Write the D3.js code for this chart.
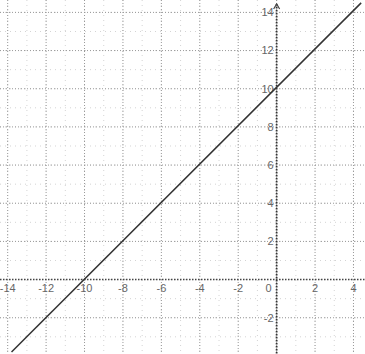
<!DOCTYPE html>
<html>
<head>
<meta charset="utf-8">
<script src="https://cdn.jsdelivr.net/npm/d3@7"></script>
<style>
  html, body { margin: 0; padding: 0; background: #fff; }
  svg { display: block; }
  .tick-label { font-family: "Liberation Sans", Arial, sans-serif; font-size: 11px; fill: #666; }
</style>
</head>
<body>
<div id="chart"></div>
<script>
// line y = x + 10, drawn between its two ends on the paper
const lineX = [-13.8, 4.4];
const lineY = [-3.8, 14.5];

// tick labels
const xTicks = [-14, -12, -10, -8, -6, -4, -2, 0, 2, 4];
const yTicks = [14, 12, 10, 8, 6, 4, 2, -2];

// grid steps
const majorX = d3.range(-14, 5, 2);
const majorY = d3.range(-4, 15, 2);
const minorX = d3.range(-14, 5, 1);
const minorY = d3.range(-4, 15, 1);

const width = 365, height = 354;

const svg = d3.select('#chart')
    .append('svg')
    .attr('width', width)
    .attr('height', height);

const x = d3.scaleLinear().domain([-14.4, 4.6]).range([0, width]);
const y = d3.scaleLinear().domain([-3.9, 14.65]).range([height, 0]);

// minor grid (faint)
svg.append('g').selectAll('line')
    .data(minorX)
    .enter().append('line')
    .attr('x1', d => x(d)).attr('x2', d => x(d))
    .attr('y1', 0).attr('y2', height)
    .attr('stroke', '#d4d4d4')
    .attr('stroke-dasharray', '1,4');

svg.append('g').selectAll('line')
    .data(minorY)
    .enter().append('line')
    .attr('y1', d => y(d)).attr('y2', d => y(d))
    .attr('x1', 0).attr('x2', width)
    .attr('stroke', '#d4d4d4')
    .attr('stroke-dasharray', '1,4');

// major grid (dotted)
svg.append('g').selectAll('line')
    .data(majorX)
    .enter().append('line')
    .attr('x1', d => x(d)).attr('x2', d => x(d))
    .attr('y1', 0).attr('y2', height)
    .attr('stroke', '#999')
    .attr('stroke-dasharray', '1,2');

svg.append('g').selectAll('line')
    .data(majorY)
    .enter().append('line')
    .attr('y1', d => y(d)).attr('y2', d => y(d))
    .attr('x1', 0).attr('x2', width)
    .attr('stroke', '#999')
    .attr('stroke-dasharray', '1,2');

// axes
svg.append('line')
    .attr('x1', 0).attr('x2', width)
    .attr('y1', y(0)).attr('y2', y(0))
    .attr('stroke', '#444')
    .attr('stroke-width', 1.6)
    .attr('stroke-dasharray', '1.5,1.5');

svg.append('line')
    .attr('x1', x(0)).attr('x2', x(0))
    .attr('y1', 4).attr('y2', height)
    .attr('stroke', '#333')
    .attr('stroke-width', 1.8)
    .attr('stroke-dasharray', '1.5,1.5');

// arrow head at top of y axis
svg.append('path')
    .attr('d', `M${x(0) - 3},${9} L${x(0)},${4} L${x(0) + 3},${9}`)
    .attr('fill', 'none')
    .attr('stroke', '#444')
    .attr('stroke-width', 1.2);

// tick labels
svg.append('g').selectAll('text')
    .data(xTicks)
    .enter().append('text')
    .attr('class', 'tick-label')
    .attr('x', d => d === 0 ? x(d) - 8 : x(d))
    .attr('y', y(0) + 12)
    .attr('text-anchor', 'middle')
    .text(d => d);

svg.append('g').selectAll('text')
    .data(yTicks)
    .enter().append('text')
    .attr('class', 'tick-label')
    .attr('x', x(0) - 3)
    .attr('y', d => y(d))
    .attr('dy', '0.35em')
    .attr('text-anchor', 'end')
    .text(d => d);

// the line
svg.append('path')
    .datum(lineX.map((d, i) => [d, lineY[i]]))
    .attr('d', d3.line().x(d => x(d[0])).y(d => y(d[1])))
    .attr('fill', 'none')
    .attr('stroke', '#333')
    .attr('stroke-width', 1.5);
</script>
</body>
</html>
